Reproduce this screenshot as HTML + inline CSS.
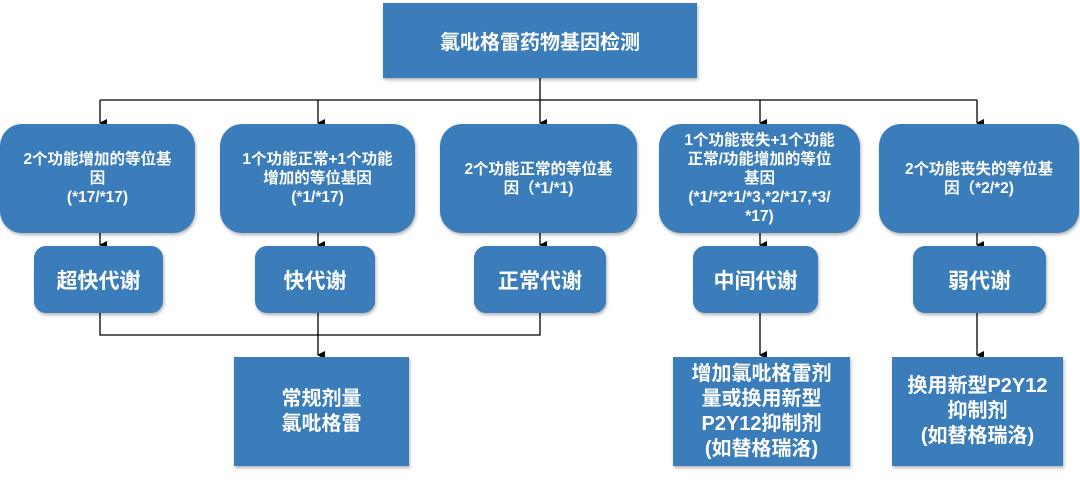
<!DOCTYPE html>
<html><head><meta charset="utf-8"><style>
body{margin:0;width:1080px;height:483px;background:#fff;position:relative;overflow:hidden;font-family:"Liberation Sans","Noto Sans CJK SC",sans-serif;font-weight:bold;color:#fff}
.b{position:absolute;background:#3a7dba;display:flex;align-items:center;justify-content:center;text-align:center;box-shadow:1px 2px 3px rgba(0,0,0,.3);box-sizing:border-box}
.r{border-radius:22px;font-size:15.5px;line-height:19px;padding:0 22px}
.m{border-radius:12px;font-size:21px}
.s{font-size:20px;line-height:25px}
svg{position:absolute;left:0;top:0}
</style></head><body>
<svg width="1080" height="483">
<defs><marker id="a" markerWidth="8" markerHeight="8" refX="4" refY="7" orient="auto" markerUnits="userSpaceOnUse"><path d="M0,0 L8,0 L4,8z" fill="#000"/></marker></defs>
<g stroke="#000" stroke-width="1.3" fill="none">
<line x1="540" y1="78" x2="540" y2="100"/>
<line x1="100" y1="100" x2="977" y2="100"/>
<line x1="100" y1="100" x2="100" y2="123" marker-end="url(#a)"/>
<line x1="318" y1="100" x2="318" y2="123" marker-end="url(#a)"/>
<line x1="540" y1="100" x2="540" y2="123" marker-end="url(#a)"/>
<line x1="760" y1="100" x2="760" y2="123" marker-end="url(#a)"/>
<line x1="977" y1="100" x2="977" y2="123" marker-end="url(#a)"/>
<line x1="100" y1="233" x2="100" y2="245" marker-end="url(#a)"/>
<line x1="318" y1="233" x2="318" y2="245" marker-end="url(#a)"/>
<line x1="540" y1="233" x2="540" y2="245" marker-end="url(#a)"/>
<line x1="760" y1="233" x2="760" y2="245" marker-end="url(#a)"/>
<line x1="977" y1="233" x2="977" y2="245" marker-end="url(#a)"/>
<polyline points="100,313 100,335 540,335 540,313"/>
<line x1="318" y1="313" x2="318" y2="355" marker-end="url(#a)"/>
<line x1="760" y1="313" x2="760" y2="355" marker-end="url(#a)"/>
<line x1="977" y1="313" x2="977" y2="355" marker-end="url(#a)"/>
</g></svg>
<div class="b" style="left:383px;top:3px;width:314px;height:75px;font-size:20px">氯吡格雷药物基因检测</div>
<div class="b r" style="left:0;top:124px;width:195px;height:109px">2个功能增加的等位基<br>因<br>(*17/*17)</div>
<div class="b r" style="left:220px;top:124px;width:195px;height:109px">1个功能正常+1个功能<br>增加的等位基因<br>(*1/*17)</div>
<div class="b r" style="left:440px;top:124px;width:197px;height:109px">2个功能正常的等位基<br>因（*1/*1)</div>
<div class="b r" style="left:659px;top:124px;width:201px;height:109px;padding:0 10px">1个功能丧失+1个功能<br>正常/功能增加的等位<br>基因<br>(*1/*2*1/*3,*2/*17,*3/<br>*17)</div>
<div class="b r" style="left:879px;top:124px;width:200px;height:109px">2个功能丧失的等位基<br>因（*2/*2)</div>
<div class="b m" style="left:34px;top:246px;width:129px;height:67px">超快代谢</div>
<div class="b m" style="left:255px;top:246px;width:120px;height:67px">快代谢</div>
<div class="b m" style="left:474px;top:246px;width:132px;height:67px">正常代谢</div>
<div class="b m" style="left:693px;top:246px;width:125px;height:67px">中间代谢</div>
<div class="b m" style="left:913px;top:246px;width:133px;height:67px">弱代谢</div>
<div class="b s" style="left:234px;top:357px;width:175px;height:109px">常规剂量<br>氯吡格雷</div>
<div class="b s" style="left:673px;top:357px;width:177px;height:109px">增加氯吡格雷剂<br>量或换用新型<br>P2Y12抑制剂<br>(如替格瑞洛)</div>
<div class="b s" style="left:892px;top:357px;width:171px;height:109px">换用新型P2Y12<br>抑制剂<br>(如替格瑞洛)</div>
</body></html>
